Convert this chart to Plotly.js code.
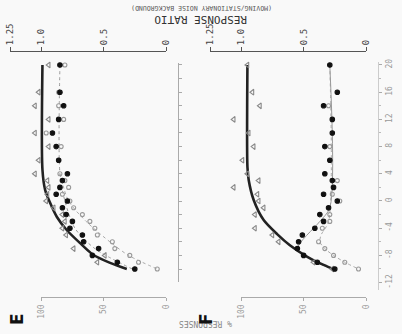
<!DOCTYPE html>
<html><head><meta charset="utf-8">
<script src="https://cdn.plot.ly/plotly-3.0.1.min.js"></script>
<style>html,body{margin:0;padding:0;background:#f9f9f9}#chart{width:402px;height:334px}</style>
</head><body><div id="chart"></div>
<script>
// signal-to-noise rows (dB)
const snr = [20,16,14,12,10,8,6,4,3,2,1,0,-1,-2,-3,-4,-5,-6,-7,-8,-9,-10];
// Panel E response ratios
const eTri    = [0.94,1.02,1.05,0.94,1.05,0.94,1.02,1.05,0.95,0.94,0.95,0.96,0.90,0.83,0.81,0.83,0.80,null,0.74,0.49,0.55,null];
const eFilled = [0.85,0.85,0.82,0.86,0.91,0.88,0.86,0.79,0.83,0.85,0.88,0.79,0.83,0.80,0.75,0.77,0.67,0.66,0.54,0.59,0.39,0.25];
const eOpen   = [0.81,0.86,0.86,0.82,0.96,0.84,0.86,0.85,0.81,0.78,0.83,0.77,0.74,0.67,0.61,0.57,0.55,0.43,0.41,0.29,0.22,0.07];
// Panel F response ratios
const fTri    = [0.95,0.91,0.85,1.06,0.94,0.90,0.99,0.95,0.86,1.06,0.87,0.86,0.82,0.89,null,0.89,0.75,0.70,null,null,0.42,0.27];
const fFilled = [0.29,0.23,0.34,0.27,0.27,0.33,0.29,0.33,0.27,0.26,0.34,0.23,0.30,0.37,0.34,0.41,0.51,0.54,0.55,0.50,0.39,0.25];
const fOpen   = [null,null,0.30,null,null,0.29,null,null,0.23,null,0.27,0.21,null,0.29,0.29,0.35,null,0.38,0.33,0.26,0.17,0.06];
// fitted curves
const eCurveDb = [20,4.6,1.6,-0.3,-2.35,-4.3,-6.2,-7.9,-9.1,-10];
const eCurveR  = [0.99,0.99,0.968,0.928,0.874,0.794,0.688,0.584,0.448,0.314];
const fCurveDb = [20,5,3.1,0.15,-2.8,-4.9,-6.5,-8.2,-9.4,-10.1];
const fCurveR  = [0.95,0.95,0.94,0.90,0.82,0.71,0.61,0.47,0.34,0.25];
const eFitFilledDb = [20,4,0,-4,-7,-10];
const eFitFilledR  = [0.85,0.85,0.81,0.73,0.57,0.27];
const eFitOpenDb = [4,0,-3,-6,-8,-10];
const eFitOpenR  = [0.85,0.78,0.64,0.45,0.30,0.07];
const fFitFilledDb = [20,-1,-3,-7,-8.2,-9.4,-10];
const fFitFilledR  = [0.29,0.29,0.37,0.55,0.47,0.35,0.25];
const fFitOpenDb = [20,-3,-5,-6,-7,-8,-9,-10];
const fFitOpenR  = [0.29,0.30,0.36,0.37,0.33,0.26,0.17,0.06];
// stray marks near zero ratio
const eStrayDb = [-5.7], eStrayR = [-0.016];
const fStrayDb = [-5.6], fStrayR = [-0.032];
// tick labels
const ratioTicks = [1.25,1.0,0.5,0];
const ratioText = ['1.25','1.0','0.5','0'];
const pctTicks = [100,50,0];
const pctText = ['100','50','0'];
const snrTicks = [20,16,12,8,4,0,-4,-8,-12];
const snrText = ['20','16','12','8','4','0','-4','-8','-12'];

const W=402,H=334;
const px=x=>x/W, py=y=>1-y/H;

function pts(xa, r, db, sym, color, fill, size){
  return {type:'scatter',mode:'markers',x:r,y:db,xaxis:xa,yaxis:'y',
    marker:{symbol:sym,size:size,color:fill,line:{color:color,width:1.1}},hoverinfo:'skip',cliponaxis:false};
}
function line(xa, r, db, color, width, dash){
  return {type:'scatter',mode:'lines',x:r,y:db,xaxis:xa,yaxis:'y',
    line:{color:color,width:width,dash:dash,shape:'spline',smoothing:0.8},hoverinfo:'skip'};
}
const traces = [
  line('x',eFitFilledR,eFitFilledDb,'#999',1,'dot'),
  line('x',eFitOpenR,eFitOpenDb,'#aaa',1,'dot'),
  line('x',eCurveR,eCurveDb,'#222',2.6,'solid'),
  pts('x',eTri,snr,'triangle-left-open','#888','#888',5),
  pts('x',eOpen,snr,'circle-open','#999','#999',4),
  pts('x',eFilled,snr,'circle','#111','#111',4.5),
  pts('x',eStrayR,eStrayDb,'circle','#111','#111',3.5),
  line('x2',fFitOpenR,fFitOpenDb,'#aaa',1,'dot'),
  line('x2',fFitFilledR,fFitFilledDb,'#999',1,'solid'),
  line('x2',fCurveR,fCurveDb,'#222',2.6,'solid'),
  pts('x2',fTri,snr,'triangle-left-open','#888','#888',5),
  pts('x2',fOpen,snr,'circle-open','#999','#999',4),
  pts('x2',fFilled,snr,'circle','#111','#111',4.5),
  pts('x2',fStrayR,fStrayDb,'circle','#111','#111',3.5),
  {type:'scatter',x:[],y:[],xaxis:'x3',yaxis:'y',showlegend:false},
  {type:'scatter',x:[],y:[],xaxis:'x4',yaxis:'y',showlegend:false},
  {type:'scatter',x:[],y:[],xaxis:'x',yaxis:'y2',showlegend:false},
  {type:'scatter',x:[],y:[],xaxis:'x2',yaxis:'y3',showlegend:false}
];
const mono = 'DejaVu Sans Mono';
function topAxis(d0,d1){
  return {domain:[px(d0),px(d1)],range:[1.25,0],side:'top',anchor:'free',position:py(51),
    showline:true,linecolor:'#555',linewidth:1.2,ticks:'outside',ticklen:4,tickcolor:'#555',
    tickvals:ratioTicks,ticktext:ratioText,tickangle:-90,showgrid:false,zeroline:false,
    tickfont:{family:mono,size:9,color:'#444'}};
}
function pctAxis(d0,d1){
  return {domain:[px(d0),px(d1)],range:[100,0],side:'bottom',anchor:'free',position:py(297),
    showline:true,linecolor:'#aaa',linewidth:1.2,ticks:'outside',ticklen:3,tickcolor:'#aaa',
    tickvals:pctTicks,ticktext:pctText,tickangle:-90,showgrid:false,zeroline:false,
    tickfont:{family:mono,size:8,color:'#999'}};
}
const layout = {
  width:W,height:H,margin:{l:0,r:0,t:0,b:0},showlegend:false,
  paper_bgcolor:'#f9f9f9',plot_bgcolor:'rgba(0,0,0,0)',
  xaxis:topAxis(10,166),
  xaxis2:topAxis(210,366),
  xaxis3:pctAxis(41,166),
  xaxis4:pctAxis(241,366),
  yaxis:{domain:[py(292),py(48)],range:[-13.38,22.5],visible:false},
  yaxis2:{domain:[py(282),py(63)],range:[-11.91,20.29],anchor:'free',position:px(178),side:'right',
    showline:true,linecolor:'#aaa',linewidth:1,ticks:'outside',ticklen:3,tickcolor:'#aaa',
    dtick:2,tick0:0,showticklabels:false,showgrid:false,zeroline:false},
  yaxis3:{domain:[py(290),py(62)],range:[-13.09,20.44],anchor:'free',position:px(378),side:'right',
    showline:true,linecolor:'#ccc',linewidth:1,ticks:'outside',ticklen:3,tickcolor:'#aaa',
    tickvals:snrTicks,ticktext:snrText,tickangle:-90,showgrid:false,zeroline:false,
    minor:{dtick:2,ticks:'outside',ticklen:2,tickcolor:'#bbb'},
    tickfont:{family:mono,size:8,color:'#999'}},
  annotations:[
    {xref:'paper',yref:'paper',x:px(201),y:py(11),text:'RESPONSE RATIO',showarrow:false,textangle:180,
      font:{family:mono,size:11,color:'#333'}},
    {xref:'paper',yref:'paper',x:px(202),y:py(2),text:'(MOVING/STATIONARY NOISE BACKGROUND)',showarrow:false,textangle:180,
      font:{family:mono,size:6.5,color:'#555'}},
    {xref:'paper',yref:'paper',x:px(206),y:py(330),text:'% RESPONSES',showarrow:false,textangle:180,
      font:{family:mono,size:8,color:'#888'}},
    {xref:'paper',yref:'paper',x:px(5),y:py(327),text:'<b>E</b>',showarrow:false,textangle:-90,
      font:{family:'DejaVu Sans',size:17,color:'#111'}},
    {xref:'paper',yref:'paper',x:px(206),y:py(327),text:'<b>F</b>',showarrow:false,textangle:-90,
      font:{family:'DejaVu Sans',size:17,color:'#111'}}
  ]
};
Plotly.newPlot('chart',traces,layout,{staticPlot:true,displayModeBar:false});
</script></body></html>
